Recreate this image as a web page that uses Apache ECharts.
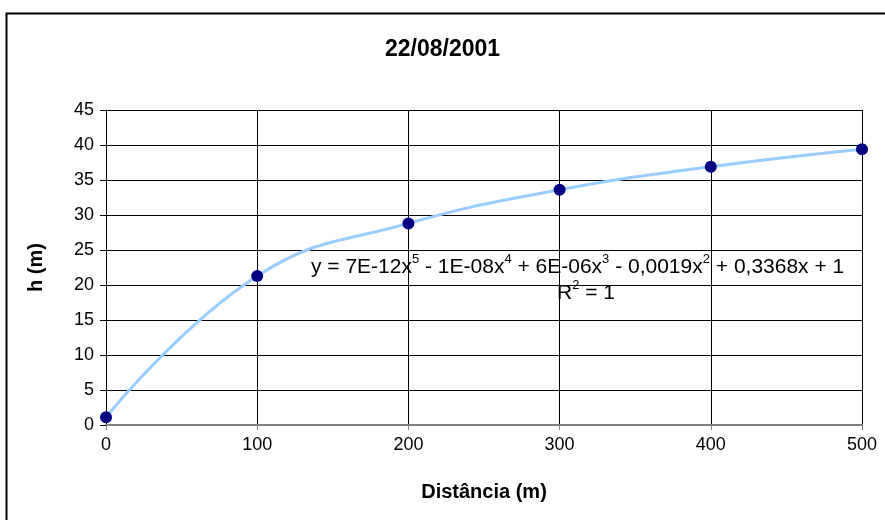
<!DOCTYPE html>
<html>
<head>
<meta charset="utf-8">
<script src="https://cdn.jsdelivr.net/npm/echarts@6/dist/echarts.min.js"></script>
<style>
  html, body { margin: 0; padding: 0; background: #fff; }
  #chart { width: 885px; height: 520px; }
</style>
</head>
<body>
<div id="chart"></div>
<script>
// dados
const chartTitle = '22/08/2001'
const distancia = [0, 100, 200, 300, 400, 500]
const altura = [1.1, 21.3, 28.8, 33.6, 36.9, 39.4]
const xName = 'Distância (m)'
const yName = 'h (m)'

const points = distancia.map((d, i) => [d, altura[i]])
const font = '"Liberation Sans", Arial, sans-serif'

// estilo do expoente (sobrescrito)
const supStyle = { fontSize: 13, lineHeight: 13, verticalAlign: 'top', fontFamily: font, fill: '#000' }
const baseStyle = { fontSize: 21, lineHeight: 25, verticalAlign: 'bottom', fontFamily: font, fill: '#000' }

const chart = echarts.init(document.getElementById('chart'))

const option = {
  animation: false,
  backgroundColor: '#fff',
  textStyle: { fontFamily: font },
  title: {
    text: chartTitle,
    left: 'center',
    top: 33,
    textStyle: { fontFamily: font, fontSize: 23, fontWeight: 'bold', color: '#000' }
  },
  grid: { left: 106, right: 23, top: 110, bottom: 95 },
  xAxis: {
    type: 'value',
    min: 0,
    max: 500,
    interval: 100,
    name: xName,
    nameLocation: 'middle',
    nameGap: 57,
    nameTextStyle: { fontFamily: font, fontSize: 20, fontWeight: 'bold', color: '#000' },
    axisLine: { onZero: false, lineStyle: { color: '#808080', width: 2 } },
    axisTick: { show: true, length: 5, lineStyle: { color: '#808080' } },
    axisLabel: { fontFamily: font, fontSize: 18, color: '#000', margin: 11 },
    splitLine: { show: true, lineStyle: { color: '#000', width: 1 } }
  },
  yAxis: {
    type: 'value',
    min: 0,
    max: 45,
    interval: 5,
    name: yName,
    nameLocation: 'middle',
    nameGap: 60,
    nameTextStyle: { fontFamily: font, fontSize: 20, fontWeight: 'bold', color: '#000' },
    axisLine: { show: true, lineStyle: { color: '#000', width: 1 } },
    axisTick: { show: true, length: 6, lineStyle: { color: '#000' } },
    axisLabel: { fontFamily: font, fontSize: 18, color: '#000', margin: 12 },
    splitLine: { show: true, lineStyle: { color: '#000', width: 1 } }
  },
  graphic: [
    {
      type: 'rect',
      silent: true,
      z: -1,
      shape: { x: 6.5, y: 13.5, width: 900, height: 540 },
      style: { fill: 'none', stroke: '#000', lineWidth: 2 }
    },
    {
      type: 'line',
      silent: true,
      shape: { x1: 862.5, y1: 110, x2: 862.5, y2: 425 },
      style: { stroke: '#000', lineWidth: 1 }
    },
    {
      type: 'text',
      left: 311,
      top: 253,
      z: 10,
      style: {
        text: '{b|y = 7E-12x}{s|5}{b| - 1E-08x}{s|4}{b| + 6E-06x}{s|3}{b| - 0,0019x}{s|2}{b| + 0,3368x + 1}',
        fontFamily: font,
        fontSize: 21,
        fill: '#000',
        rich: { b: baseStyle, s: supStyle }
      }
    },
    {
      type: 'text',
      left: 557,
      top: 279,
      z: 10,
      style: {
        text: '{b|R}{s|2}{b| = 1}',
        fontFamily: font,
        fontSize: 21,
        fill: '#000',
        rich: { b: baseStyle, s: supStyle }
      }
    }
  ],
  series: [
    {
      name: 'Polinômio',
      type: 'line',
      data: points,
      smooth: 0.45,
      showSymbol: false,
      lineStyle: { color: '#99CCFF', width: 3 },
      z: 3
    },
    {
      name: 'h',
      type: 'scatter',
      data: points,
      symbol: 'circle',
      symbolSize: 12,
      itemStyle: { color: '#000080', opacity: 1 },
      z: 4
    }
  ]
}

chart.setOption(option)
</script>
</body>
</html>
